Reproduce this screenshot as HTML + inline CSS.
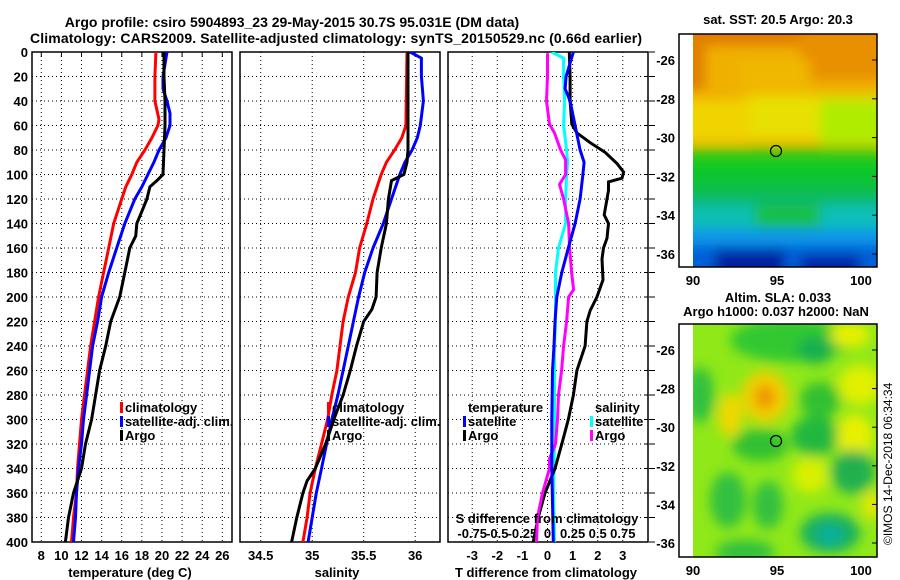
<!DOCTYPE html>
<html><head><meta charset="utf-8">
<style>
body{margin:0;background:#fff;}
svg{display:block;font-family:"Liberation Sans",sans-serif;font-weight:bold;}
</style></head>
<body>
<svg id="fig" width="900" height="580" viewBox="0 0 900 580" xmlns="http://www.w3.org/2000/svg">
<defs>
<clipPath id="cp1"><rect x="32" y="52" width="200" height="490"/></clipPath>
<clipPath id="cp2"><rect x="240" y="52" width="200" height="490"/></clipPath>
<clipPath id="cp3"><rect x="448" y="52" width="200" height="490"/></clipPath>
<clipPath id="cm1"><rect x="693" y="34" width="184" height="233"/></clipPath>
<clipPath id="cm2"><rect x="693" y="324" width="184" height="233"/></clipPath>
<filter id="bl" x="-50%" y="-50%" width="200%" height="200%"><feGaussianBlur stdDeviation="6"/></filter>
<filter id="bl2" x="-50%" y="-50%" width="200%" height="200%"><feGaussianBlur stdDeviation="6"/></filter>
</defs>
<rect width="900" height="580" fill="#fff"/>
<text x="292" y="27" font-size="14" text-anchor="middle">Argo profile: csiro 5904893_23 29-May-2015 30.7S 95.031E (DM data)</text>
<text x="336" y="43" font-size="14" text-anchor="middle" textLength="612">Climatology: CARS2009. Satellite-adjusted climatology: synTS_20150529.nc (0.66d earlier)</text>

<g>
<text x="778" y="24" font-size="13" text-anchor="middle">sat. SST: 20.5 Argo: 20.3</text>
<g clip-path="url(#cm1)">
<rect x="693" y="34" width="184" height="233" fill="#f0b000"/>
<g filter="url(#bl2)">
<rect x="660" y="10" width="240" height="35" fill="#e07c00"/>
<rect x="660" y="30" width="45" height="60" fill="#e08000"/>
<rect x="800" y="30" width="100" height="50" fill="#e89000"/>
<rect x="740" y="60" width="70" height="30" fill="#f0b800"/>
<rect x="745" y="95" width="150" height="45" fill="#e8e000"/>
<rect x="660" y="100" width="90" height="42" fill="#f0d400"/>
<rect x="820" y="100" width="80" height="45" fill="#b0ec00"/>
<rect x="660" y="148" width="260" height="22" fill="#30cc10"/>
<rect x="660" y="160" width="260" height="35" fill="#10c828"/>
<rect x="660" y="178" width="260" height="25" fill="#10c040"/>
<rect x="660" y="195" width="260" height="22" fill="#10b870"/>
<rect x="660" y="205" width="95" height="30" fill="#10c0b0"/>
<rect x="820" y="205" width="80" height="30" fill="#10c0b8"/>
<rect x="755" y="205" width="65" height="28" fill="#18c048"/>
<rect x="660" y="228" width="260" height="25" fill="#1098e8"/>
<rect x="660" y="245" width="260" height="35" fill="#0060d8"/>
<rect x="715" y="250" width="70" height="30" fill="#0020a0"/>
<rect x="800" y="255" width="60" height="25" fill="#0028a8"/>
</g>
</g>
<rect x="679" y="34" width="198" height="233" fill="none" stroke="#000" stroke-width="1.5"/>
<circle cx="776" cy="151" r="5.5" fill="none" stroke="#000" stroke-width="1.2"/>
</g>
<g>
<text x="778" y="302" font-size="13" text-anchor="middle">Altim. SLA: 0.033</text>
<text x="776" y="316" font-size="13" text-anchor="middle">Argo h1000: 0.037 h2000: NaN</text>
<g clip-path="url(#cm2)">
<rect x="693" y="324" width="184" height="233" fill="#90e818"/>
<g filter="url(#bl)">
<ellipse cx="790" cy="340" rx="60" ry="22" fill="#30c830"/>
<ellipse cx="815" cy="350" rx="18" ry="14" fill="#18b050"/>
<ellipse cx="850" cy="335" rx="20" ry="12" fill="#e8f000"/>
<ellipse cx="860" cy="385" rx="22" ry="20" fill="#e0f000"/>
<ellipse cx="700" cy="395" rx="14" ry="28" fill="#30c040"/>
<ellipse cx="765" cy="397" rx="24" ry="26" fill="#f0d000"/>
<ellipse cx="765" cy="397" rx="10" ry="12" fill="#f09000"/>
<ellipse cx="730" cy="415" rx="12" ry="22" fill="#f0d800"/>
<ellipse cx="820" cy="400" rx="20" ry="18" fill="#30c030"/>
<ellipse cx="760" cy="445" rx="28" ry="16" fill="#30c030"/>
<ellipse cx="815" cy="436" rx="24" ry="20" fill="#20b840"/>
<ellipse cx="855" cy="436" rx="18" ry="22" fill="#e8f000"/>
<ellipse cx="853" cy="472" rx="22" ry="22" fill="#20b050"/>
<ellipse cx="810" cy="475" rx="18" ry="18" fill="#d8f000"/>
<ellipse cx="728" cy="500" rx="18" ry="28" fill="#30c040"/>
<ellipse cx="768" cy="505" rx="15" ry="24" fill="#30c040"/>
<ellipse cx="830" cy="533" rx="30" ry="20" fill="#18b060"/>
<ellipse cx="830" cy="535" rx="12" ry="10" fill="#10b0a0"/>
<ellipse cx="745" cy="552" rx="30" ry="12" fill="#30c040"/>
<ellipse cx="872" cy="505" rx="10" ry="14" fill="#e8e800"/>
</g>
</g>
<rect x="679" y="324" width="198" height="233" fill="none" stroke="#000" stroke-width="1.5"/>
<circle cx="776" cy="441" r="5.5" fill="none" stroke="#000" stroke-width="1.2"/>
</g>
<text transform="translate(892,545) rotate(-90)" font-size="12" font-weight="normal">©IMOS 14-Dec-2018 06:34:34</text>
<g id="dyn"></g>
</svg>
<script>
// ---- data: temperature panel
const tClimDepth=[0,20,40,55,60,70,80,90,100,110,120,130,140,160,180,200,220,240,260,280,300,320,340,360,380,400];
const tClimVal=[19.4,19.3,19.3,19.7,19.6,19.0,18.3,17.5,17.0,16.4,16.0,15.6,15.2,14.7,14.2,13.7,13.3,12.9,12.6,12.3,12.0,11.8,11.6,11.5,11.2,11.0];
const tSatDepth=[0,20,30,40,50,60,70,80,90,100,110,120,140,160,180,200,220,240,260,280,300,320,340,360,380,400];
const tSatVal=[20.5,20.1,20.1,20.5,20.8,20.8,20.4,19.7,19.2,18.6,18.0,17.3,16.3,15.5,14.7,14.0,13.6,13.1,12.8,12.5,12.2,12.0,11.7,11.5,11.4,11.2];
const tArgoDepth=[0,20,40,60,80,100,105,110,120,130,140,150,160,180,200,220,240,260,280,300,320,340,360,380,400];
const tArgoVal=[20.2,20.2,20.3,20.3,20.2,20.1,19.5,18.8,18.5,18.0,17.5,17.4,16.8,16.3,15.8,14.9,14.4,13.8,13.4,13.0,12.4,12.0,11.2,10.7,10.4];
// ---- data: salinity panel
const sClimDepth=[0,60,70,80,90,100,120,140,160,180,200,220,240,260,280,300,320,340,360,380,400];
const sClimVal=[35.92,35.91,35.87,35.80,35.72,35.67,35.59,35.53,35.46,35.42,35.35,35.30,35.27,35.24,35.19,35.15,35.09,35.03,34.98,34.95,34.91];
const sSatDepth=[0,5,20,40,60,70,80,90,100,120,140,160,180,200,220,240,260,280,300,320,340,360,380,400];
const sSatVal=[35.95,36.06,36.06,36.08,36.05,36.02,35.97,35.90,35.85,35.77,35.69,35.59,35.51,35.45,35.40,35.35,35.30,35.25,35.19,35.14,35.09,35.04,35.00,34.96];
const sArgoDepth=[0,80,90,100,105,120,140,160,180,200,210,220,240,260,280,300,320,340,350,360,380,400];
const sArgoVal=[35.93,35.93,35.92,35.89,35.77,35.74,35.72,35.67,35.63,35.62,35.58,35.50,35.43,35.37,35.30,35.21,35.13,35.03,34.95,34.91,34.85,34.80];
// ---- data: difference panel
const dTSatDepth=[0,20,30,40,60,80,90,100,120,140,160,180,200,220,240,260,300,340,400];
const dTSatVal=[1.03,0.74,0.70,0.90,1.10,1.30,1.46,1.41,1.30,1.10,0.83,0.57,0.37,0.30,0.26,0.20,0.17,0.17,0.23];
const dTArgoDepth=[0,20,40,59,66,74,82,91,98,103,106,113,120,133,140,152,160,169,186,200,211,220,240,260,280,300,320,340,360,380,400];
const dTArgoVal=[0.87,0.90,0.90,0.97,1.17,1.70,2.30,2.77,3.03,2.97,2.43,2.43,2.37,2.26,2.43,2.37,2.23,2.17,2.21,1.97,1.70,1.57,1.50,1.17,1.03,0.83,0.57,0.30,-0.10,-0.37,-0.57];
const dSSatDepth=[0,5,20,40,60,80,90,100,120,140,160,180,200,220,240,280,320,360,400];
const dSSatVal=[0.04,0.16,0.16,0.17,0.16,0.19,0.20,0.19,0.18,0.18,0.11,0.08,0.08,0.08,0.07,0.07,0.07,0.06,0.07];
const dSArgoDepth=[1,20,40,59,66,80,88,100,108,120,140,160,180,194,200,220,240,260,280,300,320,332,340,360,380,400];
const dSArgoVal=[0.0,0.0,-0.01,0.02,0.07,0.13,0.18,0.18,0.12,0.16,0.21,0.22,0.24,0.26,0.21,0.19,0.16,0.14,0.11,0.10,0.08,0.02,0.02,-0.05,-0.10,-0.11];
// ---- tick labels
const depthTicks=[0,20,40,60,80,100,120,140,160,180,200,220,240,260,280,300,320,340,360,380,400];
const tempTicks=[8,10,12,14,16,18,20,22,24,26];
const salTicks=[34.5,35,35.5,36];
const dTTicks=[-3,-2,-1,0,1,2,3];
const dSTicks=[-0.75,-0.5,-0.25,0,0.25,0.5,0.75];
const dSTickLabels=["-0.75","-0.5","-0.25","0","0.25","0.5","0.75"];
const latTicks=[-26,-28,-30,-32,-34,-36];
const lonTicks=[90,95,100];

const NS="http://www.w3.org/2000/svg";
const root=document.getElementById('dyn');
function mk(tag,attrs,parent){const e=document.createElementNS(NS,tag);for(const k in attrs)e.setAttribute(k,attrs[k]);(parent||root).appendChild(e);return e;}
const yD=d=>52+d*1.225;
const xT=t=>41.3+(t-8)*10.056;
const xS=s=>260.7+(s-34.5)*103;
const xDT=t=>547.5+t*25.1;
const xDS=s=>547.5+s*100.4;
const BOT=yD(400);

const panels=[[32,'cp1'],[240,'cp2'],[448,'cp3']];
const dot={stroke:'#000','stroke-width':1,'stroke-dasharray':'1 3'};
panels.forEach(([x0],i)=>{
  depthTicks.forEach(d=>{
    if(d>0&&d<400){const l=mk('line',Object.assign({x1:x0,x2:x0+200,y1:yD(d),y2:yD(d)},dot));
    
    }
  });
});
tempTicks.forEach(t=>{const l=mk('line',Object.assign({x1:xT(t),x2:xT(t),y1:52,y2:BOT},dot));

const tx=mk('text',{x:xT(t),y:560,'font-size':13,'text-anchor':'middle'});tx.textContent=t;

mk('line',{x1:xT(t),x2:xT(t),y1:52,y2:57,stroke:'#000'});});
salTicks.forEach(s=>{const l=mk('line',Object.assign({x1:xS(s),x2:xS(s),y1:52,y2:BOT},dot));

const tx=mk('text',{x:xS(s),y:560,'font-size':13,'text-anchor':'middle'});tx.textContent=s;
});
dTTicks.forEach(t=>{const l=mk('line',Object.assign({x1:xDT(t),x2:xDT(t),y1:52,y2:BOT},dot));

const tx=mk('text',{x:xDT(t),y:560,'font-size':13,'text-anchor':'middle'});tx.textContent=t;
});
dSTicks.forEach((s,i)=>{const tx=mk('text',{x:xDS(s),y:538,'font-size':13,'text-anchor':'middle'});tx.textContent=dSTickLabels[i];
});
depthTicks.forEach(d=>{const tx=mk('text',{x:28,y:yD(d)+5,'font-size':13,'text-anchor':'end'});tx.textContent=d;

mk('line',{x1:644,x2:648,y1:yD(d),y2:yD(d),stroke:'#000'});
mk('line',{x1:649,x2:655,y1:yD(d),y2:yD(d),stroke:'#000'});});
panels.forEach(([x0])=>{const r=mk('rect',{x:x0,y:52,width:200,height:BOT-52,fill:'none',stroke:'#000','stroke-width':1.5});
});

function line(depths,vals,xf,color,clip,name){
  const pts=depths.map((d,i)=>xf(vals[i]).toFixed(1)+','+yD(d).toFixed(1)).join(' ');
  const p=mk('polyline',{points:pts,fill:'none',stroke:color,'stroke-width':3,'clip-path':'url(#'+clip+')','stroke-linejoin':'miter'});
  
  
}
line(tClimDepth,tClimVal,xT,'#f00','cp1','temp-climatology-line');
line(tSatDepth,tSatVal,xT,'#00f','cp1','temp-satellite-line');
line(tArgoDepth,tArgoVal,xT,'#000','cp1','temp-argo-line');
line(sClimDepth,sClimVal,xS,'#f00','cp2','sal-climatology-line');
line(sSatDepth,sSatVal,xS,'#00f','cp2','sal-satellite-line');
line(sArgoDepth,sArgoVal,xS,'#000','cp2','sal-argo-line');
line(dSSatDepth,dSSatVal,xDS,'#00ffff','cp3','ds-satellite-line');
line(dTArgoDepth,dTArgoVal,xDT,'#000','cp3','dt-argo-line');
line(dSArgoDepth,dSArgoVal,xDS,'#ff00ff','cp3','ds-argo-line');
line(dTSatDepth,dTSatVal,xDT,'#00f','cp3','dt-satellite-line');

function leg(x,y,color,label,name){
  if(color){const m=mk('rect',{x:x,y:y-10,width:3,height:11,fill:color});
  }
  const t=mk('text',{x:x+(color?5:0),y:y,'font-size':13});t.textContent=label;
  
}
leg(120,412,'#f00','climatology','legend-temp-climatology');
leg(120,426,'#00f','satellite-adj. clim.','legend-temp-satellite');
leg(120,440,'#000','Argo','legend-temp-argo');
leg(327,412,'#f00','climatology','legend-sal-climatology');
leg(327,426,'#00f','satellite-adj. clim.','legend-sal-satellite');
leg(327,440,'#000','Argo','legend-sal-argo');
leg(468,412,null,'temperature','legend-temperature-heading');
leg(463,426,'#00f','satellite','legend-dt-satellite');
leg(463,440,'#000','Argo','legend-dt-argo');
leg(595,412,null,'salinity','legend-salinity-heading');
leg(590,426,'#00ffff','satellite','legend-ds-satellite');
leg(590,440,'#ff00ff','Argo','legend-ds-argo');

function lab(x,y,s,name,anchor){const t=mk('text',{x:x,y:y,'font-size':13,'text-anchor':anchor||'middle'});t.textContent=s;
}
lab(130,577,'temperature (deg C)','temp-axis-title');
lab(337,577,'salinity','sal-axis-title');
lab(546,577,'T difference from climatology','dt-axis-title');
lab(547,523,'S difference from climatology','ds-axis-title');

[[60,19.4,34,267],[350,19.3,324,557]].forEach(([y26,k,top,bot],mi)=>{
  latTicks.forEach(l=>{const y=y26+(-26-l)*k;
    lab(675,y+5,l,'map-lat-tick-label','end');
    mk('line',{x1:872,x2:877,y1:y,y2:y,stroke:'#000'});});
  lonTicks.forEach(l=>{const x=693+(l-90)*16.8;
    lab(x,bot+18,l,'map-lon-tick-label');});
});
</script>
</body></html>
